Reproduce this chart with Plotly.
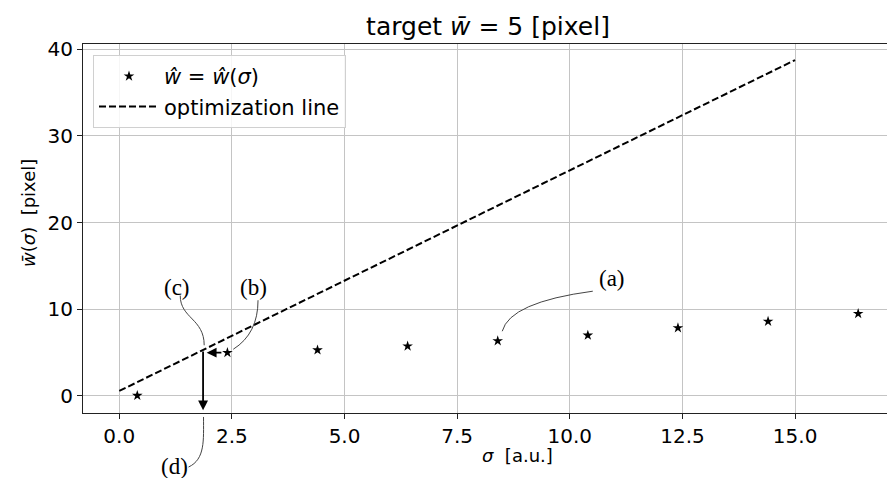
import plotly.graph_objects as go

# ---------------- data ----------------
sigma = [0.4, 2.4, 4.4, 6.4, 8.4, 10.4, 12.4, 14.4, 16.4]
w_hat = [0.05, 5.0, 5.3, 5.75, 6.35, 7.0, 7.85, 8.6, 9.5]
opt_sigma = [0.0, 15.0]
opt_w = [0.58, 38.76]

x_ticks = [0, 2.5, 5, 7.5, 10, 12.5, 15]
x_tick_labels = ["0.0", "2.5", "5.0", "7.5", "10.0", "12.5", "15.0"]
y_ticks = [0, 10, 20, 30, 40]
y_tick_labels = ["0", "10", "20", "30", "40"]

target_w = 5.0
sigma_cross = 1.86

# ---------------- layout geometry ----------------
W, H = 887, 478
ML, MR, MT, MB = 83, 0, 44, 65
XR = [-0.805, 17.04]
YR = [-1.963, 40.61]

def dx2p(x):
    return (x - XR[0]) / (XR[1] - XR[0])

def dy2p(y):
    return (y - YR[0]) / (YR[1] - YR[0])

def px2p(px, py):
    return (px - ML) / (W - ML - MR), (H - MB - py) / (H - MT - MB)

FONT = "DejaVu Sans"
SERIF = "Liberation Serif"

fig = go.Figure()
fig.add_trace(go.Scatter(
    x=sigma, y=w_hat, mode="markers",
    marker=dict(symbol="star", size=8, color="black"),
    name="<i>ŵ</i> = <i>ŵ</i>(<i>σ</i>)", cliponaxis=False))
fig.add_trace(go.Scatter(
    x=opt_sigma, y=opt_w, mode="lines",
    line=dict(color="black", width=2, dash="7px,3px"),
    name="optimization line"))

# arrows
fig.add_annotation(x=1.94, y=target_w, ax=2.3, ay=target_w, xref="x", yref="y",
                   axref="x", ayref="y", showarrow=True, arrowhead=2, arrowsize=1.1,
                   arrowwidth=1.8, arrowcolor="black", text="", standoff=0)
fig.add_annotation(x=sigma_cross, y=-1.65, ax=sigma_cross,
                   ay=opt_w[0] + (opt_w[1] - opt_w[0]) / 15.0 * sigma_cross,
                   xref="x", yref="y", axref="x", ayref="y", showarrow=True,
                   arrowhead=2, arrowsize=1.1, arrowwidth=1.8, arrowcolor="black",
                   text="", standoff=0)

# curved leader lines (data coords -> paper coords)
def path(pts, kind):
    p = [(dx2p(x), dy2p(y)) for x, y in pts]
    s = "M %.5f,%.5f " % p[0]
    s += kind + " " + " ".join("%.5f,%.5f" % q for q in p[1:])
    return s

curves = [
    ([(10.51, 12.09), (8.67, 10.82), (8.50, 7.47)], "Q"),
    ([(3.08, 11.05), (3.08, 7.2), (2.53, 5.39)], "Q"),
    ([(1.353, 11.59), (1.353, 8.94), (1.885, 8.94), (1.885, 5.85)], "C"),
    ([(1.537, -8.2), (1.908, -7.3), (1.870, -5.12), (1.870, -2.42)], "C"),
]
for pts, kind in curves:
    fig.add_shape(type="path", path=path(pts, kind), xref="paper", yref="paper",
                  line=dict(color="#444", width=1))

labels = [("(a)", 10.94, 13.59), ("(b)", 2.99, 12.55), ("(c)", 1.29, 12.55), ("(d)", 1.22, -8.1)]
for t, x, y in labels:
    fig.add_annotation(x=dx2p(x), y=dy2p(y), xref="paper", yref="paper", text=t,
                       showarrow=False, font=dict(family=SERIF, size=23, color="black"),
                       xanchor="center", yanchor="middle")

# axis titles
xt = px2p(517, 455)
fig.add_annotation(x=xt[0], y=xt[1], xref="paper", yref="paper",
                   text="<i>σ</i>  [a.u.]", showarrow=False,
                   font=dict(family=FONT, size=18, color="black"),
                   xanchor="center", yanchor="middle")
yt = px2p(28, 213)
fig.add_annotation(x=yt[0], y=yt[1], xref="paper", yref="paper",
                   text="<i>w̄</i>(<i>σ</i>)  [pixel]", showarrow=False, textangle=-90,
                   font=dict(family=FONT, size=18, color="black"),
                   xanchor="center", yanchor="middle")

lg = px2p(93, 55)
fig.update_layout(
    width=W, height=H,
    margin=dict(l=ML, r=MR, t=MT, b=MB),
    paper_bgcolor="white", plot_bgcolor="white",
    title=dict(text="target <i>w̄</i> = 5 [pixel]", x=px2p(488, 0)[0], xref="paper",
               xanchor="center", y=1 - 26 / H, yref="container", yanchor="middle",
               font=dict(family=FONT, size=25, color="black")),
    font=dict(family=FONT, size=20, color="black"),
    showlegend=True,
    legend=dict(x=lg[0], y=lg[1], xanchor="left", yanchor="top",
                bgcolor="rgba(255,255,255,0.85)", bordercolor="#d0d0d0", borderwidth=1,
                font=dict(family=FONT, size=21, color="black"), itemwidth=60,
                tracegroupgap=0),
    xaxis=dict(range=XR, tickvals=x_ticks, ticktext=x_tick_labels,
               showgrid=True, gridcolor="#c4c4c4", gridwidth=1,
               showline=True, linecolor="#222", linewidth=1.2, mirror=True,
               ticks="outside", ticklen=5, tickcolor="#222", zeroline=False,
               tickfont=dict(family=FONT, size=20)),
    yaxis=dict(range=YR, tickvals=y_ticks, ticktext=y_tick_labels,
               showgrid=True, gridcolor="#c4c4c4", gridwidth=1,
               showline=True, linecolor="#222", linewidth=1.2, mirror=False,
               ticks="outside", ticklen=5, tickcolor="#222", zeroline=False,
               tickfont=dict(family=FONT, size=20)),
)

fig.write_html("out.html")
